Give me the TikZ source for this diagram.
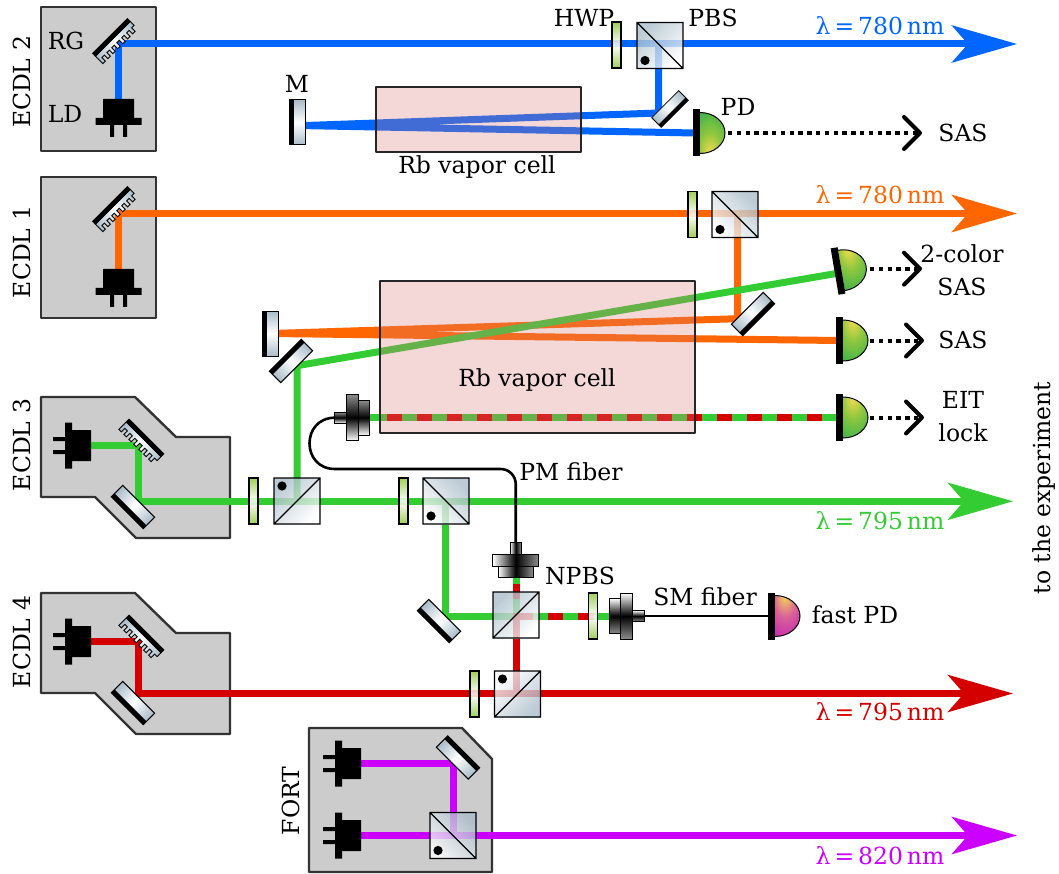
\documentclass[tikz,border=0pt]{standalone}
\usepackage{fontspec}
\setmainfont{DejaVu Serif}
\usetikzlibrary{arrows.meta}
\definecolor{beamblue}{HTML}{0066FF}
\definecolor{beamorange}{HTML}{FF6600}
\definecolor{beamgreen}{HTML}{33CC33}
\definecolor{beamred}{HTML}{D40000}
\definecolor{beampurple}{HTML}{CC00FF}
\definecolor{cubedark}{HTML}{A9BCC9}
\definecolor{platedark}{HTML}{8FC63A}
\definecolor{cellred}{HTML}{DA7A7A}
\definecolor{boxgray}{HTML}{CCCCCC}
\definecolor{detyellow}{HTML}{F6DC50}
\definecolor{detmid}{HTML}{8CC63F}
\definecolor{detgreen}{HTML}{00A650}
\definecolor{detpink}{HTML}{D8609A}
\definecolor{detpurple}{HTML}{BB00BB}
\pgfdeclareradialshading{detgreenshade}{\pgfpoint{-6bp}{26bp}}{color(0bp)=(detyellow); color(22bp)=(detmid); color(62bp)=(detgreen); color(100bp)=(detgreen)}
\pgfdeclareradialshading{detpurpleshade}{\pgfpoint{-6bp}{26bp}}{color(0bp)=(detyellow); color(22bp)=(detpink); color(62bp)=(detpurple); color(100bp)=(detpurple)}
\tikzset{
  beam/.style={line width=7pt,line join=miter},
  beamtip/.style={beam,-{Stealth[length=65pt,width=37pt,inset=16pt]}},
  beamdash/.style={line width=7pt,draw=beamred,dash pattern=on 15pt off 15pt},
  fiberline/.style={line width=2.6pt},
  signalarrow/.style={line width=4pt,dash pattern=on 4.4pt off 4.4pt,
    -{Straight Barb[length=16pt,width=32pt,line width=4pt,round]}},
  housing/.style={draw=black!80,fill=boxgray,line width=2.4pt,line join=round},
  vaporcell/.style={draw=black!85,fill=cellred,fill opacity=.3,line width=2.4pt,line join=round},
  labeltext/.style={font=\fontsize{23.5}{33}\selectfont,inner sep=0pt,align=center},
  wavelabel/.style={labeltext,text=#1},
  cube angle/.store in=\cubeangle,cube angle=-45,
  det shade/.store in=\detshade,det shade=detgreenshade,
  cube/.pic={\pgflowlevelsynccm
    \shade[bottom color=white,top color=cubedark,shading angle=\cubeangle,opacity=.78] (-23,-23) rectangle (23,23);
    \draw[line width=1.1pt] (-23,-23) rectangle (23,23) (-23,-23) -- (23,23);},
  pbs/.pic={\pgflowlevelsynccm
    \pic {cube};
    \fill (-15,15) circle[radius=4.6];},
  hwp/.pic={\pgflowlevelsynccm
    \shade[top color=platedark,bottom color=platedark,middle color=white,opacity=.85] (-4.5,-23) rectangle (4.5,23);
    \draw[line width=1.1pt] (-4.5,-23) rectangle (4.5,23);},
  mirror/.pic={\pgflowlevelsynccm
    \shade[left color=cubedark,right color=cubedark,middle color=white] (-22.5,-3.5) rectangle (22.5,8);
    \draw[line width=1pt] (-22.5,-8) rectangle (22.5,8);
    \fill (-22.5,-8) rectangle (22.5,-3.5);},
  grating/.pic={\pgflowlevelsynccm
    \shade[draw,line width=.9pt,left color=cubedark,right color=cubedark,middle color=white]
      (-24.5,-3) -- (24.5,-3) -- (24.5,2.5) foreach \k in {1,...,7}{ -- ++(-3.5,0) -- ++(0,5) -- ++(-3.5,0) -- ++(0,-5)} -- cycle;
    \fill (-25,-7.5) rectangle (25,-3);},
  laserdiode/.pic={\pgflowlevelsynccm
    \fill (-15.5,0) rectangle (15.5,19) (-23,19) rectangle (23,26)
      (-8.5,26) rectangle (-4.5,38) (4.5,26) rectangle (8.5,38);},
  detector/.pic={\pgflowlevelsynccm
    \shade[shading=\detshade] (0,-20.5) arc[start angle=-90,end angle=90,x radius=25,y radius=20.5] -- cycle;
    \draw[line width=1pt] (0,-20.5) arc[start angle=-90,end angle=90,x radius=25,y radius=20.5];
    \fill (-7,-23.5) rectangle (0,23.5);},
  couplerpart/.style={top color=black!45,bottom color=white,middle color=black,draw=black,line width=1pt},
  coupler/.pic={\pgflowlevelsynccm
    \path[couplerpart] (-18,-5.5) rectangle (-6,5.5);
    \path[couplerpart] (6,-17.5) rectangle (17,17.5);
    \path[couplerpart] (-6,-23) rectangle (6,23);}
}
\begin{document}
\begin{tikzpicture}[x=1pt,y=-1pt]
  \useasboundingbox (0,0) rectangle (1059,874);
  % housings
  \draw[housing] (41,7) rectangle (156,151);
  \draw[housing] (41,177) rectangle (156,318);
  \draw[housing] (41,397) -- (135,397) -- (176,437) -- (230,437) -- (230,538) -- (136,538) -- (95,497) -- (41,497) -- cycle;
  \draw[housing] (41,593) -- (135,593) -- (176,633) -- (230,633) -- (230,734) -- (136,734) -- (95,693) -- (41,693) -- cycle;
  \draw[housing] (309,728) -- (462,728) -- (492,759) -- (492,872) -- (309,872) -- cycle;
  % beam points
  \foreach \n/\x/\y in {ldBlue/118.5/99,gratBlue/118.5/44,tipBlue/1017/44,foldBlue/658.5/113,retroBlue/303/125.6,detBlue/695/133,
    splitBlue/658.5/44,ldOrange/118.5/269,gratOrange/118.5/213.5,tipOrange/1017/213.5,splitOrange/737.5/213.5,foldOrange/737.5/318.7,
    retroOrange/272/333.5,detOrange/838/340.5,ldGreen/91/445.5,gratGreen/138/445.5,turnGreen/138/501.3,tipGreen/1013/501.3,
    splitGreen/297/501.3,foldGreen/297/365.7,detTwo/838/273.2,branchGreen/445/501.3,turnBranch/445/616,npbsMid/516.5/616,
    lensTop/516.5/575,lensRight/610/616,lensLeft/368/417.5,detEit/838/417.5,dashEit/387/417.5,
    ldRed/91/641.5,gratRed/138/641.5,turnRed/138/693.5,tipRed/1013/693.5,splitRed/516.5/693.5,pinkEnd/533/616,
    dashRight/548/616,dashRightEnd/593/616,dashUp/516.5/599,dashUpEnd/516.5/584,
    ldFortA/361/763.7,foldFort/453/763.7,pbsFortB/453/835.5,ldFortB/361/835.5,tipFort/1017/835.5}
    \coordinate (\n) at (\x,\y);
  % beams
  \draw[beamtip,beamblue] (ldBlue) -- (gratBlue) -- (tipBlue);
  \draw[beam,beamblue] (splitBlue) -- (foldBlue) -- (retroBlue) -- (detBlue);
  \draw[beamtip,beamorange] (ldOrange) -- (gratOrange) -- (tipOrange);
  \draw[beam,beamorange] (splitOrange) -- (foldOrange) -- (retroOrange) -- (detOrange);
  \draw[beamtip,beamgreen] (ldGreen) -- (gratGreen) -- (turnGreen) -- (tipGreen);
  \draw[beam,beamgreen] (splitGreen) -- (foldGreen) -- (detTwo);
  \draw[beam,beamgreen] (branchGreen) -- (turnBranch) -- (npbsMid) -- (lensTop);
  \draw[beam,beamgreen] (npbsMid) -- (lensRight);
  \draw[beam,beamgreen] (lensLeft) -- (detEit);
  \draw[beamdash] (dashEit) -- (detEit);
  \draw[beamtip,beamred] (ldRed) -- (gratRed) -- (turnRed) -- (tipRed);
  \draw[beam,beamred] (splitRed) -- (npbsMid) -- (pinkEnd);
  \draw[beamdash] (dashRight) -- (dashRightEnd);
  \draw[beamdash] (dashUp) -- (dashUpEnd);
  \draw[beam,beampurple] (ldFortA) -- (foldFort) -- (pbsFortB);
  \draw[beamtip,beampurple] (ldFortB) -- (tipFort);
  % cells
  \draw[vaporcell] (376,87) rectangle (581,152);
  \draw[vaporcell] (380,281) rectangle (695,433);
  % fibers
  \coordinate (bendLow) at (335,469);
  \coordinate (bendCorner) at (515.7,469);
  \coordinate (stubLeft) at (335,417.7);
  \coordinate (stubTop) at (515.7,543);
  \coordinate (stubRight) at (644,616);
  \coordinate (detFast) at (772,616);
  \draw[fiberline] (stubLeft) .. controls (301,417.7) and (301,469) .. (bendLow);
  \draw[fiberline,rounded corners=15pt] (bendLow) -- (bendCorner) -- (stubTop);
  \draw[fiberline] (stubRight) -- (detFast);
  % optics
  \foreach \x/\y in {616.5/45,692.5/214.5,253.5/501,403.5/501,474.5/694,593/616}
    \pic at (\x,\y) {hwp};
  \pic[cube angle=45] at (660,45.5) {pbs};
  \foreach \x/\y in {735/214.5,446/501,453/835.5}
    \pic at (\x,\y) {pbs};
  \pic[yscale=-1,cube angle=135] at (297,501) {pbs};
  \pic[yscale=-1,cube angle=135] at (516,615) {cube};
  \pic[yscale=-1] at (517.5,694) {pbs};
  \foreach \x/\y/\a in {297.5/122.5/90,291/361/45,270/333.5/90,753/314/225,133/507/135,133/703/135,439/621/135,458/757.5/-45}
    \pic[rotate=\a] at (\x,\y) {mirror};
  \pic[rotate=225,scale=.85] at (670,109) {mirror};
  \foreach \x/\y/\a in {115/41/45,115/209/45,141.5/441.5/-45,141.5/637.5/-45}
    \pic[rotate=\a] at (\x,\y) {grating};
  \foreach \x/\y/\a in {118.5/99/0,118.5/269/0,91/445.5/-90,91/641.5/-90,361/763.7/-90,361/835.5/-90}
    \pic[rotate=\a] at (\x,\y) {laserdiode};
  \pic[yscale=-1] at (700,133) {detector};
  \pic[rotate=9.7] at (841.5,270.4) {detector};
  \pic at (843,340.5) {detector};
  \pic at (843,417.5) {detector};
  \pic[det shade=detpurpleshade] at (775,616) {detector};
  \pic at (352.7,417.7) {coupler};
  \pic[rotate=-90] at (515.7,560.7) {coupler};
  \pic[rotate=180] at (626,616) {coupler};
  % signals
  \coordinate (sigOne) at (728,133);
  \coordinate (sigOneEnd) at (922,133);
  \coordinate (sigTwo) at (870,268.7);
  \coordinate (sigTwoEnd) at (922,268.7);
  \coordinate (sigSas) at (870,340.5);
  \coordinate (sigSasEnd) at (924,340.5);
  \coordinate (sigEit) at (870,417.5);
  \coordinate (sigEitEnd) at (924,417.5);
  \draw[signalarrow] (sigOne) -- (sigOneEnd);
  \draw[signalarrow] (sigTwo) -- (sigTwoEnd);
  \draw[signalarrow] (sigSas) -- (sigSasEnd);
  \draw[signalarrow] (sigEit) -- (sigEitEnd);
  % labels
  \node[labeltext,rotate=90] (labelEcdlTwo) at (22,82) {ECDL 2};
  \node[labeltext,rotate=90] (labelEcdlOne) at (22,252) {ECDL 1};
  \node[labeltext,rotate=90] (labelEcdlThree) at (22,445) {ECDL 3};
  \node[labeltext,rotate=90] (labelEcdlFour) at (22,642) {ECDL 4};
  \node[labeltext,rotate=90] (labelFort) at (291,801) {FORT};
  \node[labeltext] (labelRg) at (66,41) {RG};
  \node[labeltext] (labelLd) at (65,114) {LD};
  \node[labeltext] (labelM) at (297,84) {M};
  \node[labeltext] (labelHwp) at (584,18) {HWP};
  \node[labeltext] (labelPbs) at (713,18) {PBS};
  \node[labeltext] (labelPd) at (738,107) {PD};
  \node[labeltext] (labelCellTop) at (477,167) {Rb vapor cell};
  \node[labeltext] (labelCellMain) at (537,380) {Rb vapor cell};
  \node[labeltext] (labelSasTop) at (963,133) {SAS};
  \node[labeltext] (labelTwoColor) at (962,270) {2-color\\SAS};
  \node[labeltext] (labelSas) at (963,340) {SAS};
  \node[labeltext] (labelEit) at (963,417) {EIT\\lock};
  \node[labeltext] (labelPm) at (571,472) {PM fiber};
  \node[labeltext] (labelNpbs) at (580,576) {NPBS};
  \node[labeltext] (labelSm) at (705,597) {SM fiber};
  \node[labeltext] (labelFast) at (855,615) {fast PD};
  \node[labeltext,rotate=90] (labelExperiment) at (1044,488) {to the experiment};
  \node[wavelabel=beamblue] (waveBlue) at (880,26) {λ\,=\,780\,nm};
  \node[wavelabel=beamorange] (waveOrange) at (880,195) {λ\,=\,780\,nm};
  \node[wavelabel=beamgreen] (waveGreen) at (880,521) {λ\,=\,795\,nm};
  \node[wavelabel=beamred] (waveRed) at (880,712) {λ\,=\,795\,nm};
  \node[wavelabel=beampurple] (wavePurple) at (880,856) {λ\,=\,820\,nm};
\end{tikzpicture}
\end{document}
